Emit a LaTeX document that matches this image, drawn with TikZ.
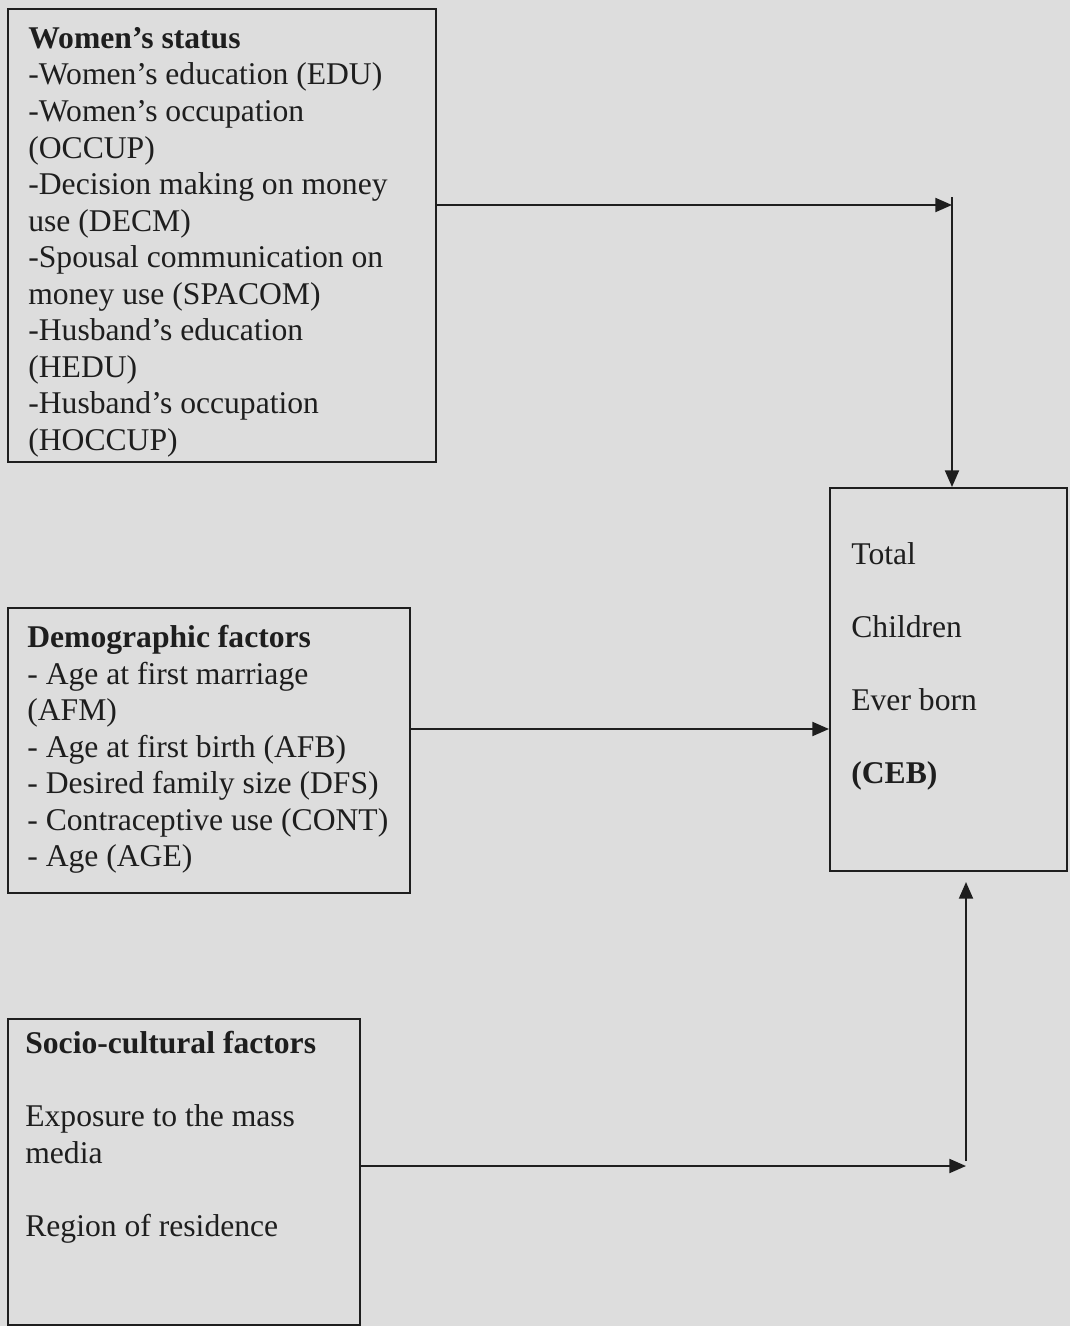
\documentclass[tikz,border=0pt]{standalone}
\usepackage{fontspec}
\setmainfont{Liberation Serif}
\usetikzlibrary{arrows.meta}
\definecolor{paper}{RGB}{221,221,221}
\definecolor{ink}{RGB}{30,30,30}

\begin{document}
\begin{tikzpicture}[x=0.02cm,y=0.02cm,
		box/.style={draw=ink, line width=1.2pt, anchor=north west, inner sep=0pt},
		txt/.style={anchor=north west, inner sep=0pt, align=left, text=ink, font=\fontsize{18}{20.8}\selectfont},
		link/.style={draw=ink, line width=1.1pt, -{Triangle[length=9.5pt,width=8pt]}}]
			\fill[paper] (0,0) rectangle (1070,-1326);
			\useasboundingbox (0,0) rectangle (1070,-1326);

			\node[box, minimum width=8.56cm, minimum height=9.06cm] (ws) at (7,-8) {};
			\node[box, minimum width=8.04cm, minimum height=5.70cm] (demo) at (7,-607) {};
			\node[box, minimum width=7.04cm, minimum height=6.12cm] (socio) at (7,-1018) {};
			\node[box, minimum width=4.74cm, minimum height=7.66cm] (ceb) at (829,-487) {};

			\node[txt] (wsText) at (28,-27) {\textbf{Women's status}\\-Women's education (EDU)\\-Women's occupation\\(OCCUP)\\-Decision making on money\\use (DECM)\\-Spousal communication on\\money use (SPACOM)\\-Husband's education\\(HEDU)\\-Husband's occupation\\(HOCCUP)};
			\node[txt] (demoText) at (27,-625) {\textbf{Demographic factors}\\- Age at first marriage\\(AFM)\\- Age at first birth (AFB)\\- Desired family size (DFS)\\- Contraceptive use (CONT)\\- Age (AGE)};
			\node[txt] (socioText) at (25,-1031) {\textbf{Socio-cultural factors}\\[20.8pt]Exposure to the mass\\media\\[20.8pt]Region of residence};
			\node[txt, font=\fontsize{18}{41.6}\selectfont] (cebText) at (851,-542) {Total\\Children\\Ever born\\\textbf{(CEB)}};

			\coordinate (topBend) at (952,-197);
			\coordinate (botBend) at (966,-1161);

			\draw[link] (ws.east |- 0,-205) -- (topBend |- 0,-205);
			\draw[link] (topBend) -- (ceb.north -| topBend);
			\draw[link] (demo.east |- 0,-729) -- (ceb.west |- 0,-729);
			\draw[link] (socio.east |- 0,-1166) -- (botBend |- 0,-1166);
			\draw[link, shorten >=0.2cm] (botBend) -- (ceb.south -| botBend);
		\end{tikzpicture}
\end{document}
